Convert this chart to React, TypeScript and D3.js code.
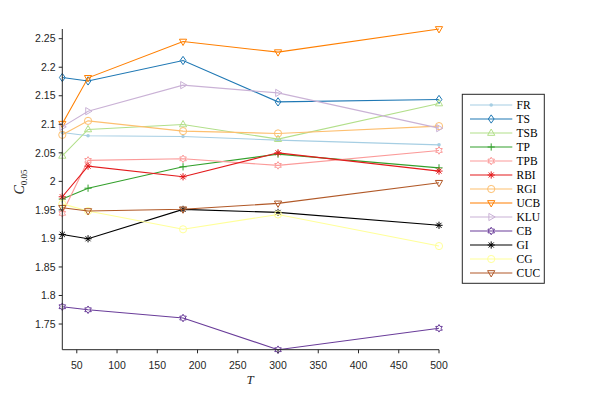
import React from "react";
import * as d3 from "d3";

const T = [32, 64, 182, 300, 500];
const seriesNames = ["FR", "TS", "TSB", "TP", "TPB", "RBI", "RGI", "UCB", "KLU", "CB", "GI", "CG", "CUC"];
const FR = [2.0857, 2.0798, 2.0787, 2.0722, 2.064];
const TS = [2.182, 2.176, 2.2118, 2.1393, 2.1435];
const TSB = [2.0447, 2.091, 2.0997, 2.074, 2.1365];
const TP = [1.969, 1.988, 2.0255, 2.0477, 2.0237];
const TPB = [1.944, 2.0367, 2.0395, 2.028, 2.0542];
const RBI = [1.973, 2.0267, 2.008, 2.05, 2.018];
const RGI = [2.0815, 2.106, 2.088, 2.084, 2.0968];
const UCB = [2.101, 2.1814, 2.245, 2.2264, 2.267];
const KLU = [2.0955, 2.123, 2.1686, 2.155, 2.0933];
const CB = [1.7803, 1.775, 1.7605, 1.705, 1.7425];
const GI = [1.907, 1.8994, 1.9509, 1.9456, 1.923];
const CG = [1.9605, 1.948, 1.916, 1.942, 1.8866];
const CUC = [1.9537, 1.948, 1.951, 1.9614, 1.9975];
const seriesValues = [FR, TS, TSB, TP, TPB, RBI, RGI, UCB, KLU, CB, GI, CG, CUC];
const colors = ["#a6cee3", "#1f78b4", "#b2df8a", "#33a02c", "#fb9a99", "#e31a1c", "#fdbf6f", "#ff7f00", "#cab2d6", "#6a3d9a", "#000000", "#ffff99", "#b15928"];
const markers = ["dot", "diamond", "up", "plus", "hex", "star", "circle", "down", "right", "hex", "star", "circle", "down"];
const xTicks = [50, 100, 150, 200, 250, 300, 350, 400, 450, 500];
const yTicks = [1.75, 1.8, 1.85, 1.9, 1.95, 2, 2.05, 2.1, 2.15, 2.2, 2.25];

function markerPath(kind: string, s: number): string {
  switch (kind) {
    case "diamond":
      return `M0,${-s * 1.15}L${s * 0.8},0L0,${s * 1.15}L${-s * 0.8},0Z`;
    case "up":
      return `M0,${-s * 1.1}L${s},${s * 0.65}L${-s},${s * 0.65}Z`;
    case "down":
      return `M0,${s * 1.1}L${s},${-s * 0.65}L${-s},${-s * 0.65}Z`;
    case "right":
      return `M${s * 1.1},0L${-s * 0.65},${s}L${-s * 0.65},${-s}Z`;
    case "plus":
      return `M${-s},0L${s},0M0,${-s}L0,${s}`;
    case "star": {
      const d = s * 0.7;
      return `M${-s},0L${s},0M0,${-s}L0,${s}M${-d},${-d}L${d},${d}M${-d},${d}L${d},${-d}`;
    }
    case "hex": {
      const pts: string[] = [];
      const ro = s * 1.05, ri = ro / Math.sqrt(3);
      for (let i = 0; i < 12; i++) {
        const a = -Math.PI / 2 + (i * Math.PI) / 6;
        const r = i % 2 === 0 ? ro : ri;
        pts.push(`${(r * Math.cos(a)).toFixed(2)},${(r * Math.sin(a)).toFixed(2)}`);
      }
      return "M" + pts.join("L") + "Z";
    }
    case "circle":
      return `M${s},0A${s},${s} 0 1,1 ${-s},0A${s},${s} 0 1,1 ${s},0Z`;
    default:
      return "";
  }
}

function Marker({ kind, color, x, y }: { kind: string; color: string; x: number; y: number }) {
  if (kind === "dot") return <circle cx={x} cy={y} r={1.8} fill={color} />;
  return <path d={markerPath(kind, 3.6)} transform={`translate(${x},${y})`} fill="none" stroke={color} strokeWidth={1} />;
}

export default function App() {
  const x = d3.scaleLinear().domain([32, 500]).range([62.3, 439]);
  const y = d3.scaleLinear().domain([1.705, 2.267]).range([349.7, 29]);
  const line = d3.line<number>().x((_, i) => x(T[i])).y((v) => y(v));
  const axisColor = "#262626";
  const legX = 462.3, legY = 94.3, legW = 82, legH = 189;
  const rowH = 14.0;
  return (
    <svg width={591} height={393} style={{ position: "absolute", left: 0, top: 0, background: "#fff" }}>
      <rect width={591} height={393} fill="#fff" />
      {seriesValues.map((vals, si) => (
        <g key={seriesNames[si]}>
          <path d={line(vals) || ""} fill="none" stroke={colors[si]} strokeWidth={1.1} />
          {vals.map((v, i) => (
            <Marker key={i} kind={markers[si]} color={colors[si]} x={x(T[i])} y={y(v)} />
          ))}
        </g>
      ))}
      {/* axes */}
      <g stroke={axisColor} strokeWidth={1} fill="none">
        <line x1={62.3} x2={62.3} y1={29} y2={349.7} />
        <line x1={62.3} x2={439} y1={349.7} y2={349.7} />
        {xTicks.map((t) => (
          <line key={t} x1={x(t)} x2={x(t)} y1={349.7} y2={353.3} />
        ))}
        {yTicks.map((t) => (
          <line key={t} x1={58.7} x2={62.3} y1={y(t)} y2={y(t)} />
        ))}
      </g>
      <g fill={axisColor} fontFamily="'Liberation Sans', Arial, sans-serif" fontSize={10.5}>
        {xTicks.map((t) => (
          <text key={t} x={x(t)} y={369} textAnchor="middle">{t}</text>
        ))}
        {yTicks.map((t) => (
          <text key={t} x={55.5} y={y(t) + 3.7} textAnchor="end">{String(t)}</text>
        ))}
      </g>
      <text x={250} y={384} textAnchor="middle" fontFamily="'Liberation Serif', serif" fontStyle="italic" fontSize={13} fill={axisColor}>T</text>
      <g transform="translate(24,182) rotate(-90)">
        <text textAnchor="middle" fontFamily="'Liberation Serif', serif" fill={axisColor}>
          <tspan fontStyle="italic" fontSize={14}>C</tspan>
          <tspan fontSize={9} dy={3}>0.05</tspan>
        </text>
      </g>
      {/* legend */}
      <rect x={legX} y={legY} width={legW} height={legH} fill="#fff" stroke={axisColor} strokeWidth={1} />
      {seriesNames.map((name, si) => {
        const ry = 105 + si * rowH;
        return (
          <g key={name}>
            <line x1={470} x2={512.3} y1={ry} y2={ry} stroke={colors[si]} strokeWidth={1.1} />
            <Marker kind={markers[si]} color={colors[si]} x={491.2} y={ry} />
            <text x={516.5} y={ry + 4} fontFamily="'Liberation Serif', serif" fontSize={11.5} fill="#000">{name}</text>
          </g>
        );
      })}
    </svg>
  );
}
